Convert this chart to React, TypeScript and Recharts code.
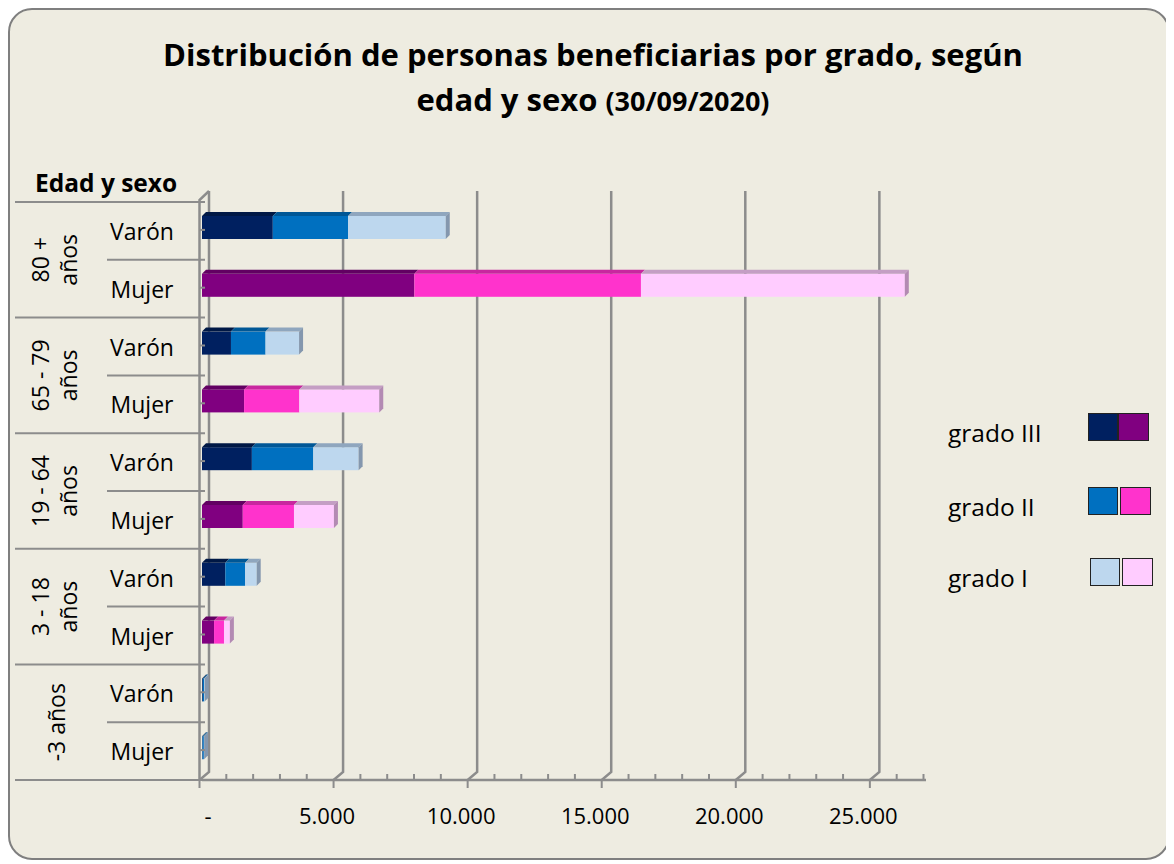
import React from "react";
import { BarChart, Bar, XAxis, YAxis, CartesianGrid } from "recharts";

const groups = ["80 + años", "65 - 79 años", "19 - 64 años", "3 - 18 años", "-3 años"];
const groupLines = [["80 +", "años"], ["65 - 79", "años"], ["19 - 64", "años"], ["3 - 18", "años"], ["-3 años"]];
const sexes = ["Varón", "Mujer"];

// one value per row: 80+ V, 80+ M, 65-79 V, 65-79 M, 19-64 V, 19-64 M, 3-18 V, 3-18 M, -3 V, -3 M
const gradoIII = [2640, 7920, 1080, 1570, 1860, 1520, 870, 450, 30, 20];
const gradoII = [2810, 8450, 1290, 2060, 2290, 1910, 740, 370, 50, 50];
const gradoI = [3640, 9840, 1250, 2980, 1690, 1490, 430, 220, 20, 10];

const xTicks = Array.from({ length: 28 }, (_, i) => i * 1000);
const gridValues = [0, 5000, 10000, 15000, 20000, 25000];

const FONT = "'Open Sans', sans-serif";
const AXIS = "#8c8c8c";
const BAND = 57.8;
const D = 4;

const VARON = { front: ["#002060", "#0070C0", "#BDD7EE"], top: ["#001845", "#005796", "#8FA6BE"], side: "#8497AE" };
const MUJER = { front: ["#800080", "#FF33CC", "#FFCCFF"], top: ["#620062", "#C8279F", "#C49EC4"], side: "#B38AB3" };

const rows = groups.flatMap((g, gi) =>
  sexes.map((s, si) => {
    const i = gi * 2 + si;
    return { id: `${g}|${s}`, group: gi, sex: s, g3: gradoIII[i], g2: gradoII[i], g1: gradoI[i] };
  })
);

function palette(row: any) {
  // the -3 años bars show in blue for both sexes
  if (row.sex === "Varón" || row.group === 4) return VARON;
  return MUJER;
}

function make3D(level: number) {
  return (props: any) => {
    const { x, y, width, height, payload } = props;
    if (!width || width <= 0) return <g />;
    const p = palette(payload);
    const fy = y - 3;
    const top = `${x},${fy} ${x + D},${fy - D} ${x + width + D},${fy - D} ${x + width},${fy}`;
    const side = `${x + width},${fy} ${x + width + D},${fy - D} ${x + width + D},${fy + height - D} ${x + width},${fy + height}`;
    return (
      <g>
        <rect x={x} y={fy} width={width} height={height} fill={p.front[level]} />
        <polygon points={top} fill={p.top[level]} />
        {level === 2 && <polygon points={side} fill={p.side} />}
      </g>
    );
  };
}

function GridLine(props: any) {
  const { x1, y1, y2, index } = props;
  const bx = x1 + 7;
  const fx = x1 - 2.5;
  return (
    <g key={`g${index}`}>
      <polyline points={`${bx},${y1 - 11} ${bx},${y2 - 8} ${fx},${y2}`} fill="none" stroke={AXIS} strokeWidth={2.5} />
      {index === 0 && (
        <polyline points={`${bx},${y1 - 11} ${fx},${y1 - 2} ${fx},${y2}`} fill="none" stroke={AXIS} strokeWidth={2.5} />
      )}
    </g>
  );
}

function XTick(props: any) {
  const { x, payload } = props;
  const v = payload.value;
  const fx = x - 2.5;
  const major = v % 5000 === 0;
  return (
    <g>
      {major ? (
        <line x1={fx} y1={772} x2={fx} y2={780} stroke={AXIS} strokeWidth={2} />
      ) : (
        <line x1={fx} y1={766} x2={fx} y2={772} stroke={AXIS} strokeWidth={2} />
      )}
      {major && (
        <text
          x={v === 0 ? x + 6 : x - 9}
          y={807}
          textAnchor="middle"
          dominantBaseline="central"
          fontFamily={FONT}
          fontSize={22}
          fill="#000"
        >
          {v === 0 ? "-" : v.toLocaleString("de-DE")}
        </text>
      )}
    </g>
  );
}

function YTick(props: any) {
  const { y, index } = props;
  const row = rows[index];
  if (!row) return <g />;
  const bottom = y + BAND / 2;
  const isV = row.sex === "Varón";
  const lines = groupLines[row.group];
  return (
    <g>
      <text x={134} y={y} textAnchor="middle" dominantBaseline="central" fontFamily={FONT} fontSize={23} fill="#000">
        {row.sex}
      </text>
      <line x1={191} y1={y - 1} x2={197} y2={y - 1} stroke={AXIS} strokeWidth={2} />
      {index === 0 && <line x1={7} y1={y - BAND / 2} x2={197} y2={y - BAND / 2} stroke={AXIS} strokeWidth={2} />}
      <line x1={isV ? 99 : 7} y1={bottom} x2={197} y2={bottom} stroke={AXIS} strokeWidth={2} />
      {isV &&
        lines.map((t, li) => {
          const cx = lines.length === 1 ? 48 : li === 0 ? 32 : 60;
          return (
            <text
              key={t}
              x={cx}
              y={bottom}
              textAnchor="middle"
              dominantBaseline="central"
              transform={`rotate(-90, ${cx}, ${bottom})`}
              fontFamily={FONT}
              fontSize={23}
              fill="#000"
            >
              {t}
            </text>
          );
        })}
    </g>
  );
}

const legendItems = [
  { label: "grado III", level: 0, top: 405, left: 1080 },
  { label: "grado II", level: 1, top: 479, left: 1080 },
  { label: "grado I", level: 2, top: 550, left: 1082 },
];

export default function App() {
  return (
    <div style={{ position: "relative", width: 1162, height: 852, fontFamily: FONT }}>
      <div
        style={{
          position: "absolute",
          inset: 0,
          boxSizing: "border-box",
          border: "2px solid #7f7f7f",
          borderRadius: 24,
          background: "#EEECE1",
        }}
      />
      <div
        style={{
          position: "absolute",
          left: 0,
          width: 1170,
          top: 24,
          textAlign: "center",
          fontWeight: 700,
          fontSize: 31,
          lineHeight: "45px",
          color: "#000",
        }}
      >
        <div>Distribución de personas beneficiarias por grado, según</div>
        <div>
          edad y sexo <span style={{ fontSize: 27 }}>(30/09/2020)</span>
        </div>
      </div>
      <div style={{ position: "absolute", left: 27, top: 159, fontWeight: 700, fontSize: 24.5, lineHeight: "32px" }}>
        Edad y sexo
      </div>
      <div style={{ position: "absolute", top: 0, left: 0 }}>
        <BarChart
          width={1162}
          height={852}
          data={rows}
          layout="vertical"
          margin={{ top: 194, right: 244, bottom: 0, left: 0 }}
          barSize={23}
        >
          <CartesianGrid horizontal={false} vertical={GridLine} verticalValues={gridValues} />
          <XAxis
            type="number"
            domain={[0, 27000]}
            ticks={xTicks}
            interval={0}
            height={80}
            tickLine={false}
            axisLine={{ stroke: AXIS, strokeWidth: 2.5 }}
            tick={XTick}
          />
          <YAxis type="category" dataKey="id" width={194} interval={0} tickLine={false} axisLine={false} tick={YTick} />
          <Bar dataKey="g3" stackId="a" isAnimationActive={false} shape={make3D(0)} />
          <Bar dataKey="g2" stackId="a" isAnimationActive={false} shape={make3D(1)} />
          <Bar dataKey="g1" stackId="a" isAnimationActive={false} shape={make3D(2)} />
        </BarChart>
      </div>
      {legendItems.map((it) => (
        <React.Fragment key={it.label}>
          <div
            style={{
              position: "absolute",
              left: 940,
              top: it.top + 14 - 11,
              fontSize: 24.5,
              lineHeight: "34px",
              color: "#000",
            }}
          >
            {it.label}
          </div>
          <div style={{ position: "absolute", left: it.left, top: it.top, display: "flex", gap: it.level === 0 ? 0 : 2 }}>
            <div style={{ width: 28, height: 26, border: "1px solid #222", background: VARON.front[it.level] }} />
            <div style={{ width: 29, height: 26, border: "1px solid #222", background: MUJER.front[it.level] }} />
          </div>
        </React.Fragment>
      ))}
    </div>
  );
}
